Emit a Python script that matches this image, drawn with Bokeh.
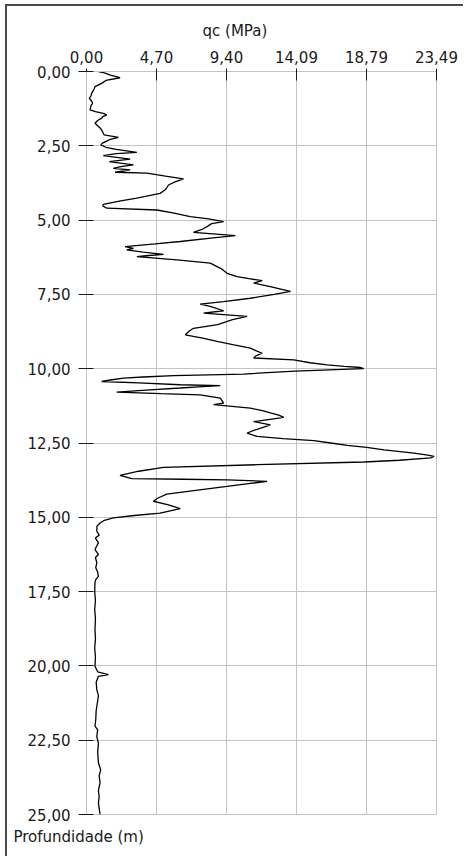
from bokeh.plotting import figure
from bokeh.models import Range1d, FixedTicker, CustomJSTickFormatter, Title
from bokeh.embed import file_html
from bokeh.resources import INLINE

# ---- data ----
depth = [0.00, 0.05, 0.12, 0.21, 0.30, 0.40, 0.51, 0.60, 0.73, 0.82, 0.90, 1.00, 1.07, 1.15, 1.29,
         1.35, 1.41, 1.46, 1.52, 1.57, 1.65, 1.74, 1.80, 1.85, 1.92, 1.97, 2.05, 2.13, 2.22, 2.28,
         2.34, 2.40, 2.47, 2.55, 2.62, 2.72, 2.76, 2.83, 2.95, 3.03, 3.14, 3.20, 3.26, 3.31, 3.39,
         3.42, 3.52, 3.61, 3.72, 3.82, 3.90, 3.98, 4.10, 4.18, 4.26, 4.36, 4.47, 4.52, 4.60, 4.66,
         4.76, 4.88, 4.96, 5.05, 5.12, 5.22, 5.30, 5.41, 5.52, 5.60, 5.72, 5.80, 5.89, 5.95, 6.00,
         6.08, 6.15, 6.20, 6.23, 6.34, 6.45, 6.55, 6.65, 6.79, 6.90, 6.97, 7.04, 7.12, 7.25, 7.40,
         7.50, 7.63, 7.74, 7.83, 7.90, 8.05, 8.13, 8.24, 8.35, 8.40, 8.52, 8.64, 8.73, 8.86, 8.97,
         9.08, 9.20, 9.31, 9.40, 9.48, 9.56, 9.64, 9.70, 9.80, 9.87, 9.92, 9.96, 10.00, 10.08, 10.18,
         10.23, 10.28, 10.32, 10.38, 10.43, 10.48, 10.54, 10.57, 10.61, 10.65, 10.72, 10.79, 10.84, 10.88, 10.99,
         11.08, 11.16, 11.21, 11.33, 11.41, 11.49, 11.56, 11.64, 11.71, 11.78, 11.89, 11.98, 12.08, 12.17, 12.28,
         12.35, 12.42, 12.50, 12.58, 12.65, 12.73, 12.84, 12.90, 12.95, 13.00, 13.08, 13.14, 13.23, 13.32, 13.45,
         13.59, 13.70, 13.72, 13.74, 13.79, 13.86, 13.96, 14.10, 14.22, 14.35, 14.46, 14.58, 14.71, 14.86, 14.94,
         15.02, 15.10, 15.19, 15.30, 15.47, 15.60, 15.70, 15.86, 16.00, 16.09, 16.25, 16.35, 16.53, 16.70, 16.85,
         16.99, 17.10, 17.20, 17.50, 17.80, 18.10, 18.40, 18.78, 19.10, 19.40, 19.70, 20.01, 20.20, 20.29, 20.35,
         20.55, 20.80, 21.00, 21.24, 21.50, 21.80, 22.03, 22.15, 22.37, 22.60, 22.90, 23.26, 23.50, 23.70, 23.93,
         24.20, 24.40, 24.61, 24.80, 25.00]
qc = [0.80, 1.20, 1.60, 2.25, 1.30, 1.02, 0.57, 0.50, 0.35, 0.30, 0.19, 0.35, 0.41, 0.30, 0.24,
      0.60, 1.13, 1.36, 1.10, 1.02, 0.75, 0.57, 0.70, 0.80, 0.95, 1.02, 1.10, 1.18, 2.14, 1.60,
      1.36, 1.10, 0.96, 1.30, 2.00, 3.38, 2.00, 1.13, 2.93, 1.53, 3.15, 2.30, 1.80, 2.93, 1.92,
      4.05, 5.30, 6.51, 5.90, 5.50, 5.40, 5.28, 4.94, 4.20, 3.38, 2.20, 1.13, 1.09, 1.36, 4.72,
      5.80, 6.96, 8.20, 9.20, 8.40, 8.09, 7.80, 7.18, 9.99, 8.50, 6.29, 4.60, 2.59, 3.15, 2.70,
      3.80, 5.17, 4.00, 3.38, 6.07, 8.31, 8.70, 9.10, 9.43, 10.10, 10.90, 11.79, 11.22, 12.40, 13.69,
      12.60, 11.00, 9.20, 7.63, 8.30, 9.20, 7.86, 10.78, 9.80, 9.50, 8.80, 7.18, 6.90, 6.63, 7.80,
      8.76, 9.90, 11.00, 11.40, 11.79, 11.40, 11.22, 13.91, 15.00, 16.16, 17.30, 18.40, 18.60, 14.00, 10.55,
      5.84, 3.80, 2.48, 1.60, 1.02, 3.50, 6.29, 8.98, 7.50, 6.29, 4.00, 2.03, 5.00, 7.63, 8.98,
      9.10, 9.20, 8.53, 11.00, 11.80, 12.34, 12.90, 13.24, 12.20, 11.22, 12.34, 11.80, 11.20, 10.78, 11.45,
      13.20, 15.26, 16.40, 17.50, 18.80, 19.97, 21.98, 22.80, 23.33, 23.10, 21.00, 18.62, 11.45, 5.17, 3.50,
      2.25, 3.04, 6.50, 9.43, 12.12, 11.00, 9.43, 7.20, 5.39, 4.80, 4.49, 5.50, 6.29, 4.94, 3.20,
      1.80, 1.20, 0.91, 0.70, 0.69, 0.85, 0.60, 0.80, 0.65, 0.57, 0.80, 0.60, 0.69, 0.62, 0.75,
      0.80, 0.62, 0.57, 0.55, 0.60, 0.55, 0.60, 0.57, 0.60, 0.55, 0.60, 0.57, 0.75, 1.47, 0.80,
      0.65, 0.69, 0.80, 0.73, 0.65, 0.62, 0.57, 0.75, 0.69, 0.80, 0.75, 0.80, 0.95, 0.85, 0.91,
      0.80, 0.85, 0.80, 0.85, 0.91]

qc_ticks = [0.0, 4.698, 9.396, 14.094, 18.792, 23.49]
qc_labels = ["0,00", "4,70", "9,40", "14,09", "18,79", "23,49"]
depth_ticks = [0.0, 2.5, 5.0, 7.5, 10.0, 12.5, 15.0, 17.5, 20.0, 22.5, 25.0]
depth_labels = ["0,00", "2,50", "5,00", "7,50", "10,00", "12,50", "15,00",
                "17,50", "20,00", "22,50", "25,00"]
x_title = "qc (MPa)"
y_title = "Profundidade (m)"

FONT = "DejaVu Sans"
FS = "15px"
GRID = "#c4c4c4"
TICK = "#1a1a1a"
TXT = "#1a1a1a"

p = figure(width=458, height=852, output_backend="svg", toolbar_location=None,
           x_range=Range1d(qc_ticks[0], qc_ticks[-1]),
           y_range=Range1d(depth_ticks[-1], depth_ticks[0]),
           x_axis_location="above",
           min_border_left=79, min_border_right=29, min_border_top=65, min_border_bottom=44)
p.background_fill_color = "white"
p.border_fill_color = "white"
p.outline_line_color = GRID
p.styles = {"margin-left": "5px", "margin-top": "4px",
            "border-top": "2px solid #4a4a4a", "border-left": "2px solid #4a4a4a"}

fmt_code = """
let best = 0; let d = Infinity;
for (let i = 0; i < tv.length; i++) {
  const e = Math.abs(tv[i] - tick);
  if (e < d) { d = e; best = i; }
}
return lb[best];
"""

xa = p.xaxis[0]
xa.ticker = FixedTicker(ticks=qc_ticks)
xa.formatter = CustomJSTickFormatter(args=dict(tv=qc_ticks, lb=qc_labels), code=fmt_code)
xa.major_tick_in = 9
xa.major_tick_out = 3
xa.major_label_standoff = 6

ya = p.yaxis[0]
ya.ticker = FixedTicker(ticks=depth_ticks)
ya.formatter = CustomJSTickFormatter(args=dict(tv=depth_ticks, lb=depth_labels), code=fmt_code)
ya.major_tick_in = 7
ya.major_tick_out = 8
ya.major_label_standoff = 8

for ax in (xa, ya):
    ax.axis_line_color = GRID
    ax.major_tick_line_color = TICK
    ax.major_tick_line_width = 1
    ax.minor_tick_line_color = None
    ax.major_label_text_font = FONT
    ax.major_label_text_font_size = FS
    ax.major_label_text_color = TXT

p.xgrid.ticker = FixedTicker(ticks=qc_ticks)
p.ygrid.ticker = FixedTicker(ticks=depth_ticks)
p.grid.grid_line_color = GRID
p.grid.grid_line_width = 1

p.line(qc, depth, line_color="black", line_width=1.3)

p.title.text = x_title
p.title.align = "left"
p.title.offset = 116
p.title.standoff = 16
p.title.text_font = FONT
p.title.text_font_size = FS
p.title.text_font_style = "normal"
p.title.text_color = TXT

p.add_layout(Title(text=y_title, align="left", offset=-73, standoff=23, text_font=FONT,
                   text_font_size=FS, text_font_style="normal", text_color=TXT), "below")

open("out.html", "w").write(file_html(p, INLINE))
